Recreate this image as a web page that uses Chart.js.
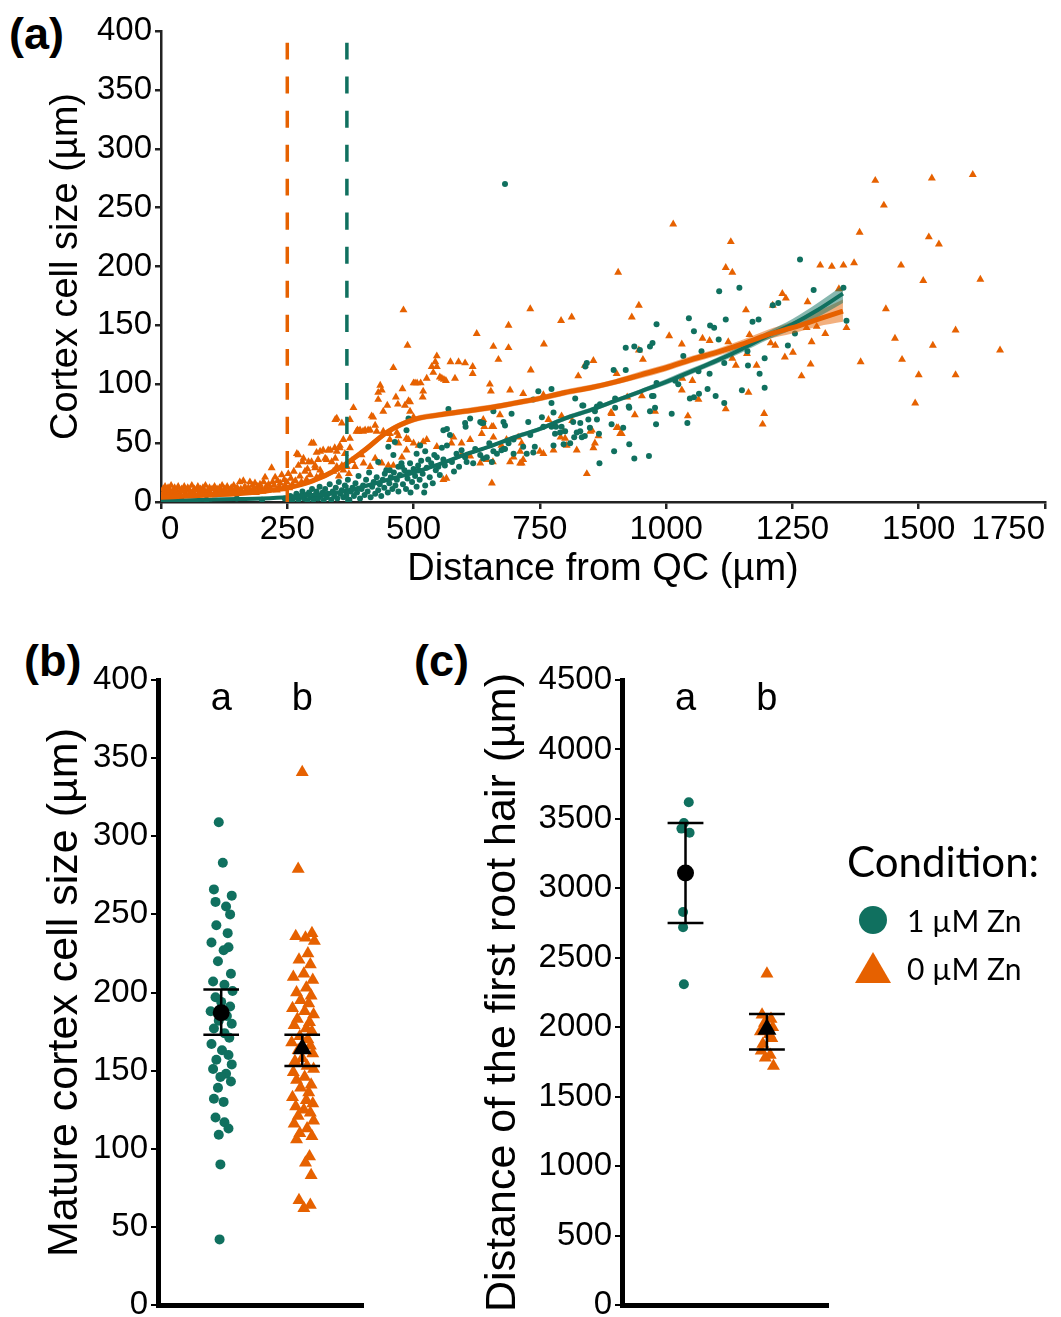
<!DOCTYPE html>
<html lang="en">
<head>
<meta charset="UTF-8">
<title>Cortex cell size and root hair distance</title>
<script src="https://cdn.jsdelivr.net/npm/chart.js@4.4.0/dist/chart.umd.min.js"></script>
<style>
  body { margin: 0; background: #fff; width: 1061px; height: 1317px; position: relative; overflow: hidden;
         font-family: "Liberation Sans", Arial, sans-serif; color: #000; }
  canvas { position: absolute; }
  .tag { position: absolute; font-weight: bold; font-size: 45px; line-height: 1; }
  #legend { position: absolute; left: 847px; top: 836px; font-family: Lato, "Open Sans", sans-serif; }
  #legend .ltitle { font-size: 42px; line-height: 50px; margin-bottom: 10px; }
  #legend .litem { position: relative; font-size: 30px; line-height: 48px; padding-left: 60px; }
  #legend .dot { position: absolute; left: 12px; top: 10px; width: 28px; height: 28px; border-radius: 50%; background: #10705f; }
  #legend .tri { position: absolute; left: 8px; top: 8px; width: 0; height: 0;
                 border-left: 18px solid transparent; border-right: 18px solid transparent; border-bottom: 31px solid #e66100; }
</style>
</head>
<body>
<div class="tag" style="left:9px;top:11px">(a)</div>
<div class="tag" style="left:24px;top:638px">(b)</div>
<div class="tag" style="left:414px;top:638px">(c)</div>

<canvas id="chartA" width="1061" height="600" style="left:0;top:0"></canvas>
<canvas id="chartB" width="400" height="677" style="left:0;top:640px"></canvas>
<canvas id="chartC" width="661" height="677" style="left:400px;top:640px"></canvas>

<div id="legend">
  <div class="ltitle">Condition:</div>
  <div class="litem"><span class="dot"></span>1 µM Zn</div>
  <div class="litem"><span class="tri"></span>0 µM Zn</div>
</div>

<script>
// ---- panel (a): cortex cell size along the root ----
// [distance from QC (µm), cell size (µm)], 0 µM Zn
const zn0Cells = [
  [2,6],[4,11],[6,8],[8,13],[10,5],[12,9],[14,12],[16,7],[18,10],[20,14],[22,6],[24,9],[27,12],[29,7],[31,10],
  [34,13],[36,8],[38,5],[41,11],[43,9],[46,13],[48,7],[51,10],[53,12],[56,6],[58,9],[61,14],[63,8],[66,11],
  [68,6],[71,10],[73,13],[76,8],[78,11],[81,7],[83,12],[86,9],[88,14],[91,7],[93,10],[96,12],[98,8],[101,11],
  [104,6],[106,13],[109,9],[111,11],[114,7],[116,12],[119,10],[121,14],[124,8],[126,11],[129,9],[131,13],
  [134,7],[136,10],[139,12],[141,8],[144,14],[146,10],[149,7],[151,12],[154,9],[156,17],[158,11],[161,8],
  [163,18],[166,13],[168,10],[171,8],[173,12],[176,17],[178,9],[181,14],[183,11],[186,16],[188,8],[191,13],
  [193,10],[196,15],[198,12],[201,9],[203,17],[206,21],[208,13],[211,10],[213,15],[216,12],[219,29],[221,17],
  [224,14],[226,21],[229,10],[231,18],[234,13],[236,16],[239,23],[241,11],[244,19],[246,14],[249,17],[252,24],
  [254,12],[257,20],[260,15],[263,26],[266,18],[269,41],[272,31],[272,40],[275,22],[278,17],[280,34],[282,37],
  [285,26],[288,19],[290,28],[292,34],[295,23],[298,50],[298,34],[302,50],[305,29],[305,31],[308,42],[308,21],
  [311,36],[315,27],[315,43],[318,24],[321,44],[325,37],[328,36],[331,44],[335,44],[338,34],[341,26],[344,46],
  [345,70],[345,37],[348,30],[348,43],[348,71],[352,22],[354,46],[354,48],[358,31],[358,67],[361,27],[361,53],
  [364,41],[368,30],[372,24],[374,46],[374,70],[374,54],[378,35],[381,80],[384,30],[387,60],[389,61],[391,60],
  [394,61],[397,40],[400,60],[401,33],[404,61],[410,61],[414,30],[414,61],[417,73],[420,72],[424,37],[424,65],
  [427,60],[430,87],[430,93],[434,99],[437,95],[437,33],[440,60],[440,77],[448,82],[450,31],[453,58],[453,53],
  [460,114],[460,31],[465,89],[467,59],[469,83],[470,56],[470,50],[477,38],[478,96],[480,163],[483,82],[486,54],
  [486,44],[488,133],[490,86],[490,53],[493,77],[493,85],[500,101],[500,72],[500,50],[503,101],[507,101],
  [510,48],[514,101],[518,89],[519,94],[519,51],[526,105],[526,53],[536,115],[539,110],[543,119],[546,115],
  [546,124],[546,47],[552,106],[556,105],[559,19],[560,104],[564,103],[565,20],[573,119],[575,50],[579,55],
  [582,105],[589,119],[595,50],[595,40],[602,118],[612,39],[612,53],[617,115],[617,109],[625,143],[632,33],
  [635,58],[638,70],[640,64],[645,36],[651,100],[653,94],[655,64],[655,16],[657,34],[658,132],[658,55],[658,64],
  [668,121],[671,74],[674,48],[684,53],[688,131],[688,150],[691,95],[691,34],[698,38],[707,55],[711,43],[711,33],
  [714,50],[714,33],[717,92],[717,36],[731,164],[732,112],[750,43],[757,91],[757,41],[758,134],[767,70],[777,44],
  [791,55],[792,154],[793,73],[797,60],[800,54],[803,48],[813,157],[814,69],[823,44],[826,107],[839,116],[843,24],
  [850,60],[853,61],[856,120],[856,46],[859,50],[866,56],[891,76],[892,75],[902,109],[902,63],[905,195],[905,63],
  [909,58],[912,58],[923,89],[932,157],[938,74],[946,167],[946,129],[952,90],[954,121],[978,77],[1006,141],
  [1014,236],[1031,134],[1031,95],[1032,105],[1043,73],[1052,103],[1064,87],[1072,139],[1086,137],[1118,199],
  [1118,79],[1123,136],[1128,221],[1131,195],[1131,122],[1138,116],[1158,163],[1160,126],[1163,93],[1165,142],
  [1179,116],[1191,66],[1194,75],[1207,135],[1211,167],[1216,133],[1230,177],[1235,123],[1237,173],[1251,127],
  [1268,107],[1278,148],[1280,170],[1286,117],[1288,136],[1298,149],[1305,201],[1315,143],[1328,200],[1342,181],
  [1351,201],[1357,148],[1372,203],[1383,229],[1385,119],[1414,273],[1431,252],[1435,164],[1453,139],[1465,201],
  [1467,121],[1493,84],[1500,108],[1509,188],[1520,225],[1526,275],[1528,133],[1540,219],[1573,146],[1573,108],
  [1607,278],[1622,189],[1661,129]
];
// 1 µM Zn
const zn1Cells = [
  [2,3],[40,2],[90,2],[150,3],[200,2],[245,3],[252,2],[256,5],[260,1],[264,4],[268,7],[272,2],[276,5],[280,9],
  [283,3],[287,6],[290,1],[293,8],[296,4],[299,11],[302,2],[305,6],[308,9],[311,3],[314,13],[317,5],[320,8],
  [322,1],[325,11],[328,4],[331,7],[334,15],[337,2],[340,9],[343,5],[346,12],[349,3],[352,17],[355,7],[358,10],
  [361,4],[364,14],[367,6],[370,19],[373,2],[376,9],[379,12],[382,5],[385,16],[388,8],[391,22],[394,3],[397,11],
  [400,14],[403,6],[406,19],[409,9],[412,25],[415,4],[418,13],[421,17],[424,7],[427,21],[430,10],[430,34],
  [433,15],[436,5],[439,19],[442,12],[443,24],[446,27],[449,8],[450,47],[452,16],[453,27],[455,21],[458,11],
  [460,40],[461,25],[463,51],[464,14],[467,19],[470,30],[470,9],[473,23],[476,33],[477,30],[479,15],[482,27],
  [485,11],[486,61],[488,20],[490,71],[491,25],[493,33],[494,8],[497,17],[500,28],[503,22],[506,41],[506,13],
  [509,31],[510,27],[512,19],[513,48],[515,35],[518,24],[521,8],[523,43],[523,14],[526,29],[529,36],[532,21],
  [535,33],[538,16],[541,40],[544,27],[546,38],[549,30],[552,23],[556,46],[559,36],[559,61],[562,31],[566,48],
  [566,62],[569,79],[572,57],[576,34],[580,26],[585,41],[590,30],[595,44],[602,38],[602,67],[603,64],[605,34],
  [612,71],[618,33],[622,45],[632,40],[632,68],[635,67],[638,37],[638,67],[645,38],[650,50],[655,34],[658,43],
  [658,77],[665,41],[674,44],[678,68],[678,45],[681,65],[681,45],[681,270],[688,50],[694,75],[698,53],[698,41],
  [717,47],[724,41],[727,68],[731,57],[737,87],[737,42],[740,47],[747,94],[754,72],[757,64],[773,96],[773,84],
  [773,64],[777,76],[777,48],[780,58],[782,64],[790,59],[793,64],[797,49],[800,60],[810,50],[816,68],[818,55],
  [820,88],[823,59],[830,67],[830,60],[833,55],[834,82],[836,82],[839,56],[840,115],[843,118],[846,70],[849,63],
  [859,77],[863,81],[863,70],[867,58],[868,33],[869,83],[892,66],[896,112],[897,43],[899,88],[899,80],[915,63],
  [920,112],[920,131],[926,81],[927,49],[927,80],[937,132],[937,37],[948,129],[966,39],[968,132],[968,77],
  [972,90],[973,135],[975,90],[978,80],[980,66],[981,151],[981,101],[1011,75],[1018,103],[1024,100],[1034,124],
  [1042,67],[1045,156],[1047,88],[1055,89],[1055,145],[1064,111],[1065,92],[1070,128],[1082,96],[1086,109],
  [1087,150],[1095,148],[1098,90],[1104,138],[1105,179],[1115,84],[1115,118],[1118,155],[1145,182],[1150,95],
  [1161,128],[1162,116],[1171,153],[1183,155],[1185,109],[1195,122],[1195,97],[1211,167],[1222,169],[1241,133],
  [1255,143],[1265,206],[1292,180],[1351,182],[1357,154]
];

// smoothed trends with confidence bands
const smoothX = [0, 50, 100, 150, 200, 250, 300, 350, 400, 450, 500, 550, 600, 650, 700, 750, 800, 850, 900, 950,
                 1000, 1050, 1100, 1150, 1200, 1250, 1300, 1350];
const zn0Fit = [4, 5, 6, 7, 9, 12, 18, 28, 43, 60, 70, 74, 77, 80, 84, 88, 93, 97, 102, 108, 114, 121, 127, 134, 142, 148, 155, 162];
const zn0Lo  = [2, 3.5, 4.5, 5.5, 7.5, 10.5, 16, 26, 40.5, 57.5, 67.5, 71.5, 74.5, 77.5, 81.5, 85.5, 90.5, 94.5, 99.5, 105, 111, 118, 124, 130.5, 138, 143, 149, 153];
const zn0Hi  = [6, 6.5, 7.5, 8.5, 10.5, 13.5, 20, 30, 45.5, 62.5, 72.5, 76.5, 79.5, 82.5, 86.5, 90.5, 95.5, 99.5, 104.5, 111, 117, 124, 130, 137.5, 146, 153, 162, 172];
const zn1Fit = [1, 1.5, 2, 2.5, 3, 4, 6, 8, 13, 19, 25, 32, 40, 47, 55, 62, 71, 78, 86, 94, 102, 111, 120, 130, 141, 151, 163, 177];
const zn1Lo  = [0, 0.5, 1, 1.5, 2, 3, 5, 7, 11.5, 17.5, 23.5, 30.5, 38.5, 45.5, 53, 60, 69, 76, 84, 92, 99.5, 108.5, 117.5, 127, 137.5, 146.5, 157, 169];
const zn1Hi  = [2, 2.5, 3, 3.5, 4, 5, 7, 9, 14.5, 20.5, 26.5, 33.5, 41.5, 48.5, 57, 64, 73, 80, 88, 96, 104.5, 113.5, 122.5, 133, 144.5, 155.5, 169, 184];

// first root hair position (dashed lines)
const hairStart = { zn0: 250, zn1: 368 };
const hairLineTop = 390;

// ---- panel (b): mature cortex cell size ----
const groupPos = [1, 2];
const groupLetters = ['a', 'b'];
const zn1Mature = [309, 283, 266, 262, 258, 255, 250, 243, 238, 232, 229, 227, 220, 212, 207, 205, 201, 197, 194, 191,
                   188, 185, 182, 180, 177, 174, 171, 167, 163, 160, 157, 154, 151, 148, 146, 143, 139, 132, 130, 120,
                   117, 113, 109, 90, 42];
const zn1MatureJit = [-0.03, 0.02, -0.09, 0.13, -0.07, 0.06, 0.11, -0.06, 0.08, -0.12, 0.09, 0.03, -0.04, 0.12, -0.1, 0.04,
                      0.14, -0.07, 0.0, 0.11, -0.13, 0.07, -0.03, 0.13, -0.09, 0.04, 0.1, -0.12, 0.01, 0.09, -0.06, 0.13,
                      -0.1, 0.06, -0.01, 0.12, -0.04, -0.09, 0.03, -0.07, 0.04, 0.09, -0.03, -0.01, -0.02];
const zn0Mature = [341, 279, 238, 236, 235, 233, 225, 221, 218, 212, 210, 208, 203, 200, 198, 195, 193, 190, 188, 186,
                   183, 181, 179, 177, 175, 172, 170, 168, 166, 163, 161, 158, 156, 153, 151, 149, 146, 144, 141, 139,
                   136, 133, 131, 129, 127, 125, 123, 121, 118, 116, 113, 110, 108, 106, 95, 91, 83, 67, 64, 62];
const zn0MatureJit = [0.0, -0.05, 0.12, -0.08, 0.04, 0.15, 0.07, -0.04, 0.1, 0.02, -0.11, 0.13, 0.05, -0.07, 0.11, -0.02,
                      0.08, -0.12, 0.03, 0.14, -0.06, 0.09, -0.1, 0.05, 0.12, -0.03, 0.07, -0.13, 0.1, -0.05, 0.13, 0.0,
                      -0.09, 0.06, 0.14, -0.11, 0.03, -0.07, 0.11, -0.02, 0.08, -0.12, 0.05, 0.13, -0.08, 0.02, 0.1,
                      -0.05, 0.14, -0.1, 0.06, -0.03, 0.12, -0.07, 0.09, 0.04, 0.11, -0.04, 0.1, 0.02];
const matureMean = [187, 164];
const matureLo   = [173, 153];
const matureHi   = [202, 173];

// ---- panel (c): distance of the first root hair ----
const zn1Hair = [3620, 3470, 3430, 3400, 2830, 2720, 2310];
const zn1HairJit = [0.04, -0.02, -0.05, 0.05, -0.03, -0.03, -0.02];
const zn0Hair = [2385, 2090, 2060, 2030, 2000, 1970, 1950, 1920, 1880, 1830, 1800, 1780, 1720];
const zn0HairJit = [0.0, -0.06, 0.05, -0.03, 0.07, -0.08, 0.03, 0.06, -0.05, -0.07, 0.04, -0.02, 0.08];
const hairMean = [3110, 1985];
const hairLo   = [2750, 1840];
const hairHi   = [3470, 2095];

const TEAL = '#10705f';
const ORANGE = '#e66100';
const FONT = '"Liberation Sans", Arial, sans-serif';

Chart.defaults.font.family = FONT;
Chart.defaults.color = '#000';
Chart.defaults.animation = false;
Chart.defaults.events = [];
Chart.defaults.plugins.legend.display = false;
Chart.defaults.plugins.tooltip.enabled = false;

const plain = v => String(v); // no thousands separators
const pts = arr => arr.map(p => ({ x: p[0], y: p[1] }));
const curve = ys => smoothX.map((x, i) => ({ x: x, y: ys[i] }));

function lineSet(data, color, width, order, extra) {
  return Object.assign({
    type: 'line', data: data, borderColor: color, borderWidth: width, pointRadius: 0,
    fill: false, order: order, cubicInterpolationMode: 'monotone'
  }, extra || {});
}

new Chart(document.getElementById('chartA'), {
  type: 'scatter',
  data: {
    datasets: [
      { data: pts(zn0Cells), pointStyle: 'triangle', pointRadius: 4.6, backgroundColor: ORANGE, borderWidth: 0, order: 9 },
      { data: pts(zn1Cells), pointStyle: 'circle', pointRadius: 3, backgroundColor: TEAL, borderWidth: 0, order: 8 },
      lineSet(curve(zn0Lo), 'rgba(0,0,0,0)', 0, 5),
      lineSet(curve(zn0Hi), 'rgba(0,0,0,0)', 0, 5, { fill: '-1', backgroundColor: 'rgba(230,97,0,0.5)' }),
      lineSet(curve(zn1Lo), 'rgba(0,0,0,0)', 0, 4),
      lineSet(curve(zn1Hi), 'rgba(0,0,0,0)', 0, 4, { fill: '-1', backgroundColor: 'rgba(16,112,95,0.5)' }),
      lineSet(curve(zn1Fit), TEAL, 4, 3),
      lineSet(curve(zn0Fit), ORANGE, 5, 2),
      lineSet([{ x: hairStart.zn0, y: hairLineTop }, { x: hairStart.zn0, y: 0 }], ORANGE, 3.5, 1, { borderDash: [17, 17] }),
      lineSet([{ x: hairStart.zn1, y: hairLineTop }, { x: hairStart.zn1, y: 0 }], TEAL, 3.5, 1, { borderDash: [17, 17] })
    ]
  },
  options: {
    responsive: false,
    layout: { padding: { top: 31, right: 16, left: 0, bottom: 0 } },
    scales: {
      x: {
        type: 'linear', min: 0, max: 1750,
        ticks: { stepSize: 250, font: { size: 33 }, color: '#000', padding: 1, align: 'inner', callback: plain },
        grid: { drawOnChartArea: false, drawTicks: true, tickLength: 7, color: '#222', lineWidth: 2.5 },
        border: { display: true, color: '#222', width: 2.5 },
        title: { display: true, text: 'Distance from QC (µm)', font: { size: 38 }, padding: { top: 0, bottom: 8 } },
        afterFit: s => { s.height = 98; }
      },
      y: {
        type: 'linear', min: 0, max: 400,
        ticks: { stepSize: 50, font: { size: 33 }, color: '#000', padding: 3, callback: plain },
        grid: { drawOnChartArea: false, drawTicks: true, tickLength: 6, color: '#222', lineWidth: 2.5 },
        border: { display: true, color: '#222', width: 2.5 },
        title: { display: true, text: 'Cortex cell size (µm)', font: { size: 38 }, padding: { top: 44, bottom: 0 } },
        afterFit: s => { s.width = 161; }
      }
    }
  }
});

// letters of significance groups above each category
const lettersPlugin = {
  id: 'letters',
  afterDraw(chart) {
    const ctx = chart.ctx;
    const xs = chart.scales.x;
    ctx.save();
    ctx.font = '38px ' + FONT;
    ctx.fillStyle = '#000';
    ctx.textAlign = 'center';
    ctx.textBaseline = 'middle';
    groupPos.forEach((g, i) => ctx.fillText(groupLetters[i], xs.getPixelForValue(g), chart.chartArea.top + 20));
    ctx.restore();
  }
};

function errorBar(center, lo, hi) {
  const w = 0.22;
  return [
    { x: center - w, y: hi }, { x: center + w, y: hi }, { x: center, y: null },
    { x: center, y: hi }, { x: center, y: lo }, { x: center, y: null },
    { x: center - w, y: lo }, { x: center + w, y: lo }
  ];
}

function dotPanel(id, vals1, jit1, vals0, jit0, mean, lo, hi, yMax, yStep, yTitle, titlePad, sizes) {
  new Chart(document.getElementById(id), {
    type: 'scatter',
    data: {
      datasets: [
        { data: vals1.map((v, i) => ({ x: groupPos[0] + jit1[i], y: v })), pointStyle: 'circle',
          pointRadius: sizes.dot, backgroundColor: TEAL, borderWidth: 0, order: 5 },
        { data: vals0.map((v, i) => ({ x: groupPos[1] + jit0[i], y: v })), pointStyle: 'triangle',
          pointRadius: sizes.tri, backgroundColor: ORANGE, borderWidth: 0, order: 5 },
        { type: 'line', data: errorBar(groupPos[0], lo[0], hi[0]), borderColor: '#000', borderWidth: 2.5,
          pointRadius: 0, spanGaps: false, order: 3 },
        { type: 'line', data: errorBar(groupPos[1], lo[1], hi[1]), borderColor: '#000', borderWidth: 2.5,
          pointRadius: 0, spanGaps: false, order: 3 },
        { data: [{ x: groupPos[0], y: mean[0] }], pointStyle: 'circle', pointRadius: 8.5,
          backgroundColor: '#000', borderWidth: 0, order: 1 },
        { data: [{ x: groupPos[1], y: mean[1] }], pointStyle: 'triangle', pointRadius: 11,
          backgroundColor: '#000', borderWidth: 0, order: 1 }
      ]
    },
    options: {
      responsive: false,
      layout: { padding: { top: 40, right: sizes.right, left: 0, bottom: 0 } },
      scales: {
        x: {
          type: 'linear', min: 0.22, max: 2.75,
          ticks: { display: false },
          grid: { display: false },
          border: { display: true, color: '#000', width: 5 },
          afterFit: s => { s.height = 12; }
        },
        y: {
          type: 'linear', min: 0, max: yMax,
          ticks: { stepSize: yStep, font: { size: 33 }, color: '#000', padding: 3, callback: plain },
          grid: { drawOnChartArea: false, drawTicks: true, tickLength: 7, color: '#000', lineWidth: 2 },
          border: { display: true, color: '#000', width: 5 },
          title: { display: true, text: yTitle, font: { size: 43 }, padding: { top: titlePad, bottom: 0 } },
          // the bottom tick label is cut by the figure edge, so it may not shrink the plot
          afterFit: s => { s.width = sizes.left; s.paddingBottom = 0; }
        }
      }
    },
    plugins: [lettersPlugin]
  });
}

dotPanel('chartB', zn1Mature, zn1MatureJit, zn0Mature, zn0MatureJit, matureMean, matureLo, matureHi,
         400, 50, 'Mature cortex cell size (µm)', 39, { dot: 5, tri: 7.5, left: 158, right: 37 });
dotPanel('chartC', zn1Hair, zn1HairJit, zn0Hair, zn0HairJit, hairMean, hairLo, hairHi,
         4500, 500, 'Distance of the first root hair (µm)', 77, { dot: 5, tri: 7.5, left: 222, right: 233 });
</script>
</body>
</html>
